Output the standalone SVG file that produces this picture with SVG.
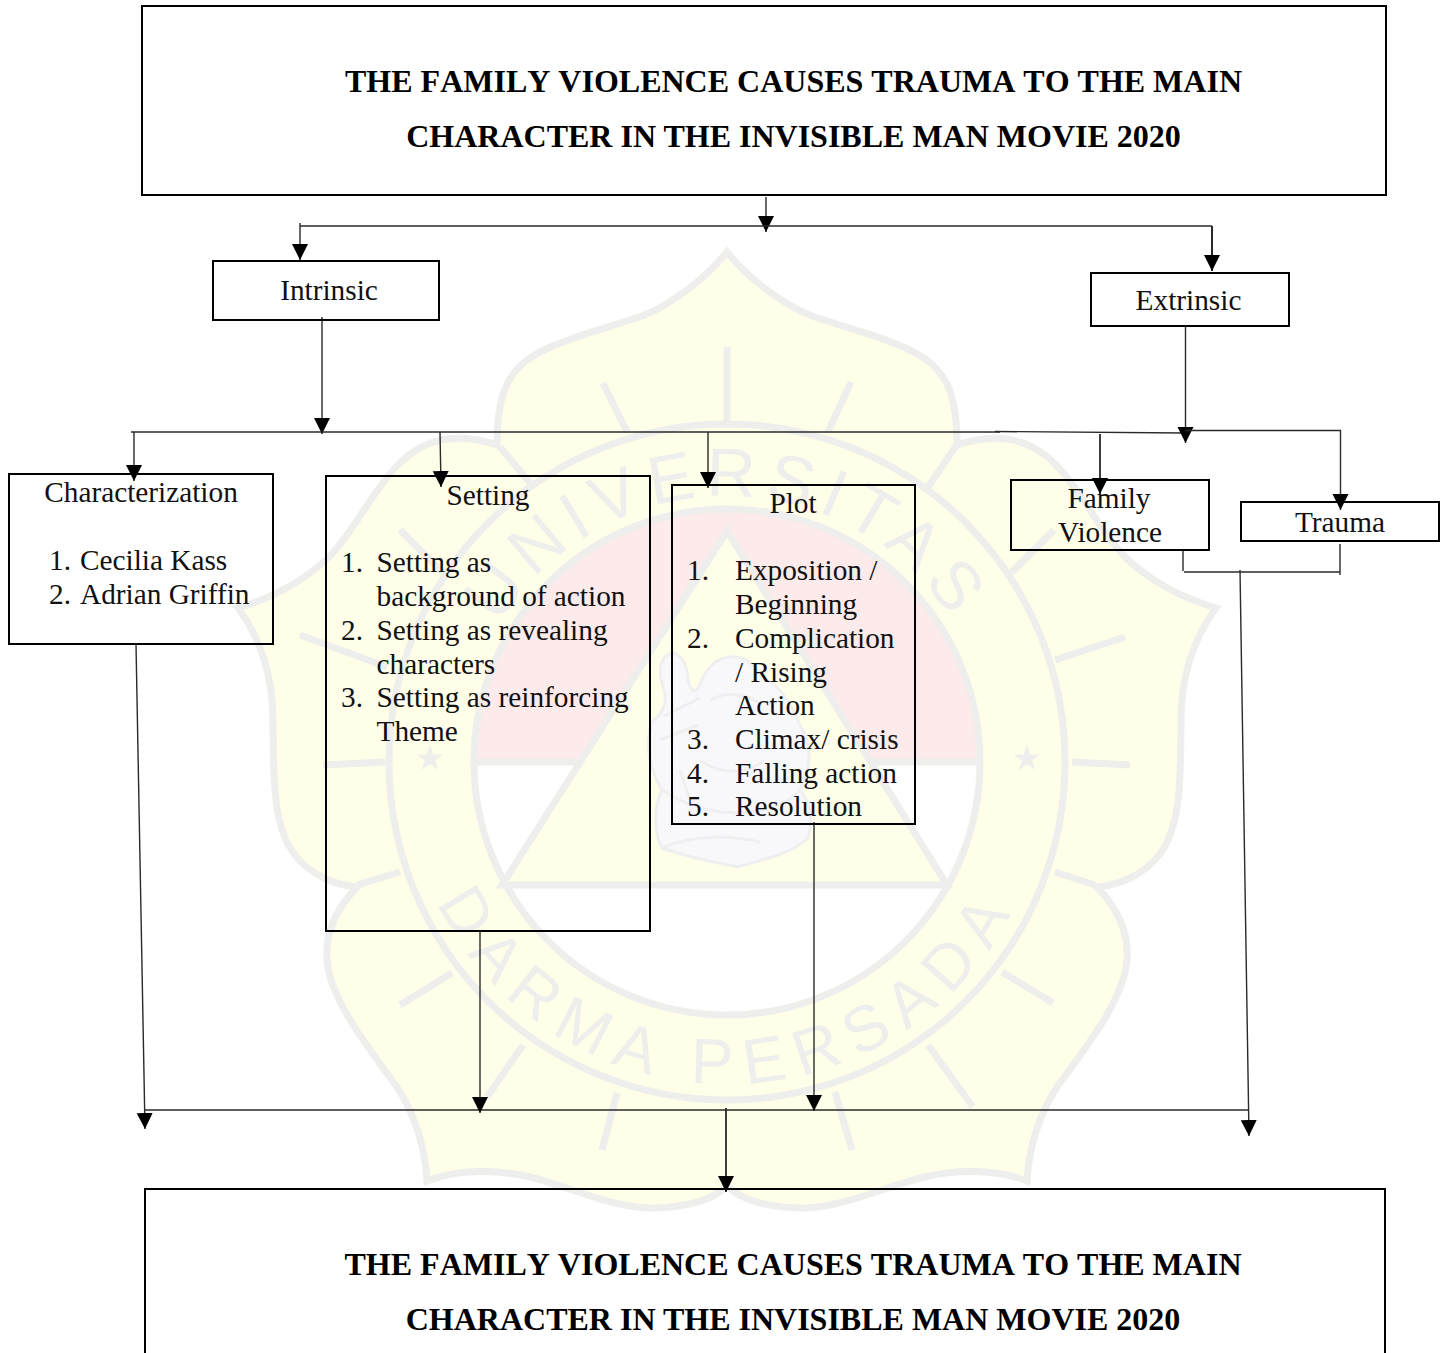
<svg xmlns="http://www.w3.org/2000/svg" width="1447" height="1353" viewBox="0 0 1447 1353">
<style>
.t{font-family:"Liberation Serif","Times New Roman",serif;font-size:29.3px;fill:#111}
.c{text-anchor:middle}
.h{font-family:"Liberation Serif","Times New Roman",serif;font-size:32px;font-weight:bold;fill:#000;text-anchor:middle}
.n{font-kerning:none}
.b{fill:none;stroke:#000;stroke-width:2}
.l{fill:none;stroke:#2a2a2a;stroke-width:1.4}
.w{fill:none;stroke:#eeeeec;stroke-width:7}
.m{font-family:"Liberation Sans",Arial,sans-serif;fill:#eeeeec}
</style>
<defs>
<marker id="a" markerUnits="userSpaceOnUse" markerWidth="16" markerHeight="17" refX="16" refY="8" orient="auto"><path d="M0,0L16,8L0,16Z" fill="#000"/></marker>
<path id="arcT" d="M461,762A266,266 0 0 1 993,762"/>
<path id="arcB" d="M405,762A322,322 0 0 0 1049,762"/>
</defs>
<rect width="1447" height="1353" fill="#fff"/>
<g id="watermark">
<path d="M727,252C700,285 660,312 630,320C600,330 560,340 535,355C505,372 497,400 497,445C470,436 430,430 396,467C370,495 355,530 329,557C305,580 275,597 238,608C262,640 273,680 273,720C273,790 275,830 295,855C310,875 335,885 357,887C335,910 325,935 327,960C330,1000 370,1050 397,1087C415,1115 425,1145 427,1181C460,1168 500,1170 530,1177C570,1187 610,1207 650,1208C685,1208 715,1200 727,1185C739,1200 769,1208 804,1208C844,1207 884,1187 924,1177C954,1170 994,1168 1027,1181C1029,1145 1039,1115 1057,1087C1084,1050 1124,1000 1127,960C1129,935 1119,910 1097,887C1119,885 1144,875 1159,855C1179,830 1181,790 1181,720C1181,680 1192,640 1216,608C1179,597 1149,580 1125,557C1099,530 1084,495 1058,467C1024,430 984,436 957,445C957,400 949,372 919,355C894,340 854,330 824,320C794,312 754,285 727,252Z" fill="#fffee9" stroke="#eeeeec" stroke-width="7"/>
<circle cx="727" cy="762" r="338" class="w"/>
<circle cx="727" cy="762" r="253" fill="#fff"/>
<path d="M474,762A253,253 0 0 1 980,762Z" fill="#fdeaea"/>
<path d="M474,762H980" class="w"/>
<path d="M727,531L947,885H502Z" fill="#fffee9" stroke="#eeeeec" stroke-width="7"/>
<circle cx="727" cy="762" r="253" class="w"/>
<path d="M727,347V423M603,383L627,432M851,382L828,432M400,530L443,573M1054,530L1011,573M300,635L387,667M1125,637L1055,660M323,765L385,762M1072,762L1130,765M357,885L400,872M1095,885L1055,872M400,1005L452,973M1053,1003L1002,972M487,1097L523,1045M973,1107L928,1045M602,1150L617,1093M852,1150L835,1092M500,447L530,483M958,443L928,487" class="w"/>
<path d="M430,745l3.2,9.5h10l-8,6 3,9.5-8.2-5.8-8.2,5.8 3-9.5-8-6h10Z M1027,745l3.2,9.5h10l-8,6 3,9.5-8.2-5.8-8.2,5.8 3-9.5-8-6h10Z" fill="#eeeeec"/>
<path d="M673,653C660,655 657,670 664,690C668,702 664,712 652,722C644,745 650,770 662,790C652,810 655,835 662,848C690,858 715,862 737,867C760,860 790,855 808,838C815,815 808,800 800,790C812,770 812,745 800,725C790,700 775,680 763,680C755,662 742,655 730,657C715,658 705,670 700,685C695,695 690,690 688,680C687,665 683,655 673,653Z" fill="#f8f8fb" stroke="#efeff0" stroke-width="3"/>
<path d="M664,716L700,698M660,740L698,725M662,790C690,808 720,815 748,812C770,810 790,802 800,790M680,770L690,800M710,700C730,690 750,695 762,705M700,760C720,775 745,775 765,760M662,848C690,835 730,835 760,842" fill="none" stroke="#efeff0" stroke-width="3"/>
<text class="m" font-size="68" letter-spacing="9" text-anchor="middle"><textPath href="#arcT" startOffset="50%">UNIVERSITAS</textPath></text>
<text class="m" font-size="64" letter-spacing="13" text-anchor="middle"><textPath href="#arcB" startOffset="50%">DARMA PERSADA</textPath></text>
</g>
<g id="connectors">
<path class="l" d="M766,197V232" marker-end="url(#a)"/>
<path class="l" d="M300,226H1212"/>
<path class="l" d="M300,223V260" marker-end="url(#a)"/>
<path class="l" style="stroke-width:2" d="M1212,226V271" marker-end="url(#a)"/>
<path class="l" d="M322,317V434" marker-end="url(#a)"/>
<path class="l" d="M131,432H1000"/>
<path class="l" d="M995,431.5L1185,433"/>
<path class="l" d="M134,432V481" marker-end="url(#a)"/>
<path class="l" d="M440,432L441,487" marker-end="url(#a)"/>
<path class="l" d="M708,432V488" marker-end="url(#a)"/>
<path class="l" d="M1185.5,326V443" marker-end="url(#a)"/>
<path class="l" d="M1185,430.5H1340.5V510" marker-end="url(#a)"/>
<path class="l" style="stroke-width:1.8" d="M1100,434V494" marker-end="url(#a)"/>
<path class="l" d="M1183,550V571"/>
<path class="l" d="M1184,572H1340"/>
<path class="l" d="M1340,544V575"/>
<path class="l" d="M1240,570L1249,1136" marker-end="url(#a)"/>
<path class="l" d="M136,644L145,1129" marker-end="url(#a)"/>
<path class="l" d="M145,1110H1249"/>
<path class="l" d="M480,931V1113" marker-end="url(#a)"/>
<path class="l" d="M814,822V1111" marker-end="url(#a)"/>
<path class="l" style="stroke-width:1.8" d="M726,1108V1192" marker-end="url(#a)"/>
</g>
<g id="node-title-top"><rect class="b" x="142" y="6" width="1244" height="189"/>
<text class="h n" x="793.5" y="92">THE FAMILY VIOLENCE CAUSES TRAUMA TO THE MAIN</text>
<text class="h" x="793.5" y="147">CHARACTER IN THE INVISIBLE MAN MOVIE 2020</text></g>
<g id="node-intrinsic"><rect class="b" x="213" y="261" width="226" height="59"/><text class="t c" x="329" y="300">Intrinsic</text></g>
<g id="node-extrinsic"><rect class="b" x="1091" y="273" width="198" height="53"/><text class="t c" x="1188.5" y="310">Extrinsic</text></g>
<g id="node-characterization"><rect class="b" x="9" y="474" width="264" height="170"/>
<text class="t c" x="141" y="502">Characterization</text>
<text class="t" x="49" y="570">1.</text><text class="t" x="80" y="570">Cecilia Kass</text>
<text class="t" x="49" y="604">2.</text><text class="t" x="80" y="604">Adrian Griffin</text></g>
<g id="node-setting"><rect class="b" x="326" y="476" width="324" height="455"/>
<text class="t c" x="488" y="505">Setting</text>
<text class="t" x="341" y="572">1.</text><text class="t" x="376.5" y="572">Setting as</text>
<text class="t" x="376.5" y="606">background of action</text>
<text class="t" x="341" y="640">2.</text><text class="t" x="376.5" y="640">Setting as revealing</text>
<text class="t" x="376.5" y="674">characters</text>
<text class="t" x="341" y="707">3.</text><text class="t" x="376.5" y="707">Setting as reinforcing</text>
<text class="t" x="376.5" y="741">Theme</text></g>
<g id="node-plot"><rect class="b" x="672" y="485" width="243" height="339"/>
<text class="t c" x="793" y="513">Plot</text>
<text class="t" x="687" y="580">1.</text><text class="t" x="735" y="580">Exposition /</text>
<text class="t" x="735" y="614">Beginning</text>
<text class="t" x="687" y="648">2.</text><text class="t" x="735" y="648">Complication</text>
<text class="t" x="735" y="682">/ Rising</text>
<text class="t" x="735" y="715">Action</text>
<text class="t" x="687" y="749">3.</text><text class="t" x="735" y="749">Climax/ crisis</text>
<text class="t" x="687" y="783">4.</text><text class="t" x="735" y="783">Falling action</text>
<text class="t" x="687" y="816">5.</text><text class="t" x="735" y="816">Resolution</text></g>
<g id="node-family-violence"><rect class="b" x="1011" y="480" width="198" height="70"/>
<text class="t c" x="1109" y="508">Family</text><text class="t c" x="1110" y="542">Violence</text></g>
<g id="node-trauma"><rect class="b" x="1241" y="502" width="198" height="39"/><text class="t c" x="1340" y="532">Trauma</text></g>
<g id="node-title-bottom"><path class="b" d="M145,1353V1189H1385V1353"/>
<text class="h n" x="793" y="1275">THE FAMILY VIOLENCE CAUSES TRAUMA TO THE MAIN</text>
<text class="h" x="793" y="1330">CHARACTER IN THE INVISIBLE MAN MOVIE 2020</text></g>
</svg>
